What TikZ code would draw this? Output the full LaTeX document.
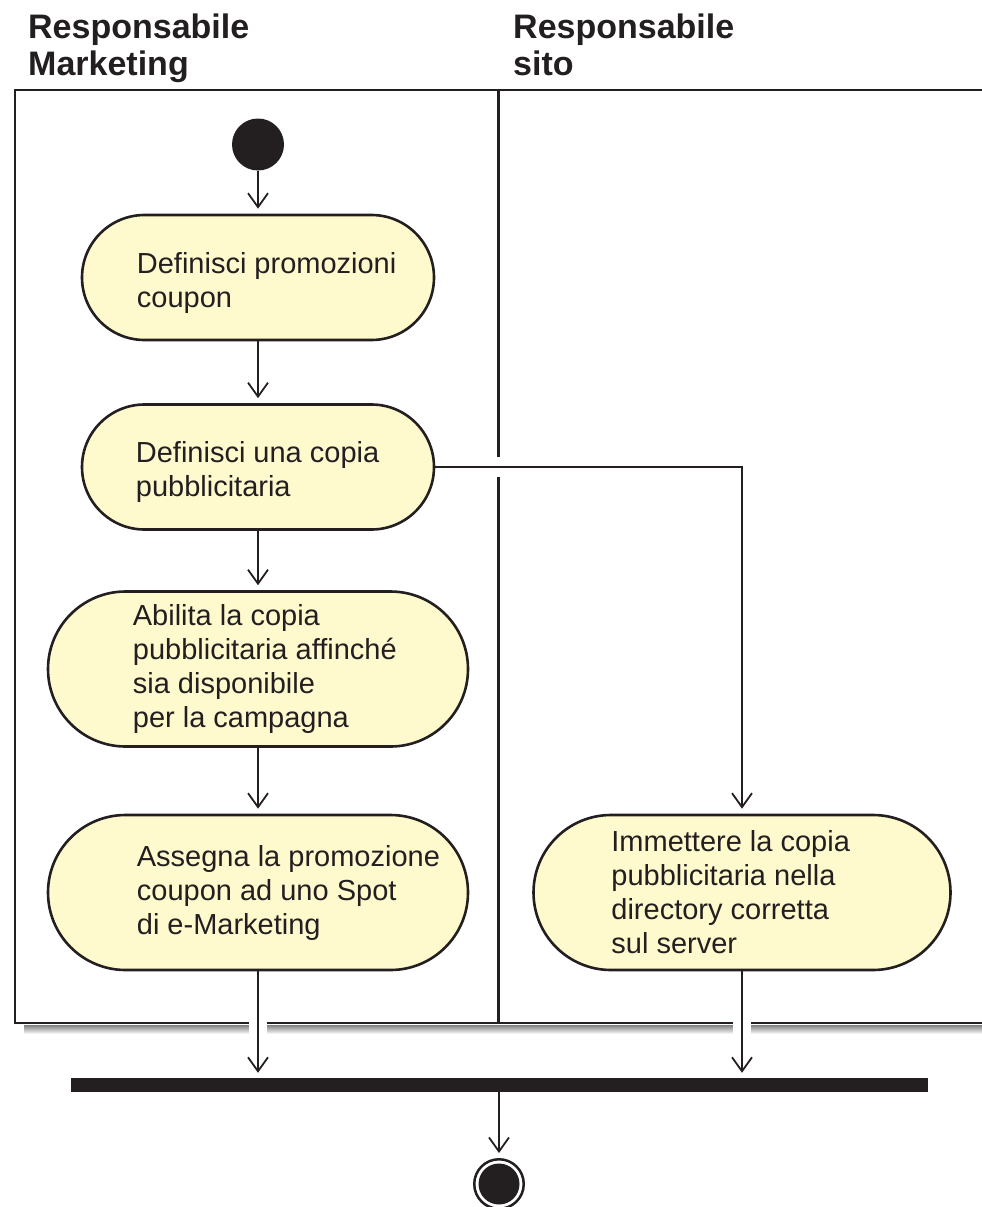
\documentclass[tikz,border=0pt]{standalone}
\usepackage{fontspec}
\setmainfont{Liberation Sans}
\usetikzlibrary{shapes.misc,arrows.meta}
\definecolor{ink}{RGB}{35,31,32}
\definecolor{actfill}{RGB}{255,249,206}
\definecolor{shade}{RGB}{230,231,232}

\begin{document}
\begin{tikzpicture}[x=1pt,y=-1pt,
		lane/.style={draw=ink,line width=2.8pt},
		act/.style={rounded rectangle,draw=ink,line width=2.6pt,fill=actfill,inner sep=0pt,minimum width=352pt,minimum height=125pt},
		bigact/.style={act,minimum width=420pt,minimum height=155pt},
		lbl/.style={inner sep=0pt,anchor=west,align=left,text=ink,font=\fontsize{29}{34}\selectfont},
		head/.style={inner sep=0pt,anchor=base west,align=left,text=ink,font=\fontsize{34}{37}\selectfont\bfseries},
		flow/.style={draw=ink,line width=1.8pt,shorten >=5pt,-{Straight Barb[length=14pt,width=20pt,line width=1.8pt]}}]
			\useasboundingbox (0,0) rectangle (982,1207);
			\node[head] (hmkt) at (28,76) {Responsabile\\Marketing};
			\node[head] (hsito) at (513,76) {Responsabile\\sito};
			\draw[lane] (982,90) -- (15,90) -- (15,1023) -- (982,1023);
			\draw[lane] (498.5,90) -- (498.5,1023);
			\fill[shade] (24,1025) rectangle (982,1034);
			\coordinate (fb) at (0,1023);
			\node[circle,fill=ink,minimum size=52pt,inner sep=0pt] (start) at (258,144.5) {};
			\node[act] (n1) at (258,277.5) {};
			\node[lbl] (t1) at ([xshift=56pt,yshift=-5pt]n1.west) {Definisci promozioni\\coupon};
			\node[act] (n2) at (258,467) {};
			\node[lbl] (t2) at ([xshift=55pt,yshift=-5pt]n2.west) {Definisci una copia\\pubblicitaria};
			\node[bigact] (n3) at (258,669) {};
			\node[lbl] (t3) at ([xshift=86pt]n3.west) {Abilita la copia\\pubblicitaria affinché\\sia disponibile\\per la campagna};
			\node[bigact] (n4) at (258,892.5) {};
			\node[lbl] (t4) at ([xshift=90pt]n4.west) {Assegna la promozione\\coupon ad uno Spot\\di e-Marketing};
			\node[bigact,minimum width=417pt] (n5) at (742,892.5) {};
			\node[lbl] (t5) at ([xshift=79pt]n5.west) {Immettere la copia\\pubblicitaria nella\\directory corretta\\sul server};
			\node[fill=ink,minimum width=857pt,minimum height=14pt,inner sep=0pt] (bar) at (499,1085) {};
			\node[circle,draw=ink,line width=2.5pt,minimum size=49.5pt,inner sep=0pt] (end) at (499,1184) {};
			\node[circle,fill=ink,minimum size=41pt,inner sep=0pt] (endin) at (end) {};
			\fill[white] (n4.south |- fb) ++(-9,-5) rectangle ++(18,18);
			\fill[white] (n5.south |- fb) ++(-9,-5) rectangle ++(18,18);
			\fill[white] (n2.east -| 498.5,0) ++(-3,-10) rectangle ++(6,20);
			\draw[flow] (start) -- (n1);
			\draw[flow] (n1) -- (n2);
			\draw[flow] (n2) -- (n3);
			\draw[flow] (n3) -- (n4);
			\draw[flow] (n2.east) -| (n5.north);
			\draw[flow] (n4) -- (n4 |- bar.north);
			\draw[flow] (n5) -- (n5 |- bar.north);
			\draw[flow] (bar) -- (end);
		\end{tikzpicture}
\end{document}
